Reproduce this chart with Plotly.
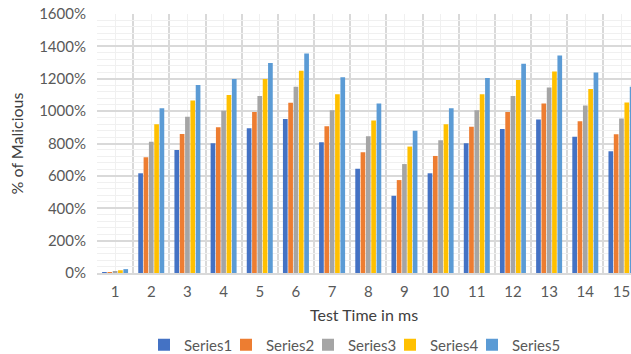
import plotly.graph_objects as go

categories = list(range(1, 16))
tick_labels = [str(c) for c in categories]
series_names = ["Series1", "Series2", "Series3", "Series4", "Series5"]
series1 = [3, 616, 760, 802, 894, 952, 808, 644, 477, 616, 802, 890, 948, 841, 752]
series2 = [5, 715, 859, 901, 994, 1051, 907, 746, 574, 723, 903, 994, 1047, 938, 857]
series3 = [11, 811, 966, 1002, 1093, 1150, 1006, 845, 673, 820, 1006, 1093, 1146, 1034, 954]
series4 = [17, 919, 1065, 1099, 1198, 1249, 1105, 942, 781, 919, 1105, 1193, 1245, 1136, 1053]
series5 = [24, 1018, 1162, 1198, 1297, 1356, 1210, 1047, 878, 1018, 1204, 1292, 1344, 1239, 1150]
colors = ["#4472C4", "#ED7D31", "#A5A5A5", "#FFC000", "#5B9BD5"]

W, H = 631, 354
left, top, bottom_y = 97, 14, 272.8
cat_px = 36.17

fig = go.Figure()
all_series = [series1, series2, series3, series4, series5]
for i, (name, vals, col) in enumerate(zip(series_names, all_series, colors)):
    fig.add_trace(go.Bar(x=categories, y=vals, name=name,
                         marker=dict(color=col, line=dict(width=0)),
                         legendwidth=(37 if i < len(series_names) - 1 else 70)))

x_hi = 0.5 + (W - left) / cat_px
font = "Lato, 'Open Sans', sans-serif"
fig.update_layout(
    width=W, height=H,
    margin=dict(l=left, r=0, t=top, b=H - bottom_y),
    paper_bgcolor="white", plot_bgcolor="white",
    barmode="group", bargap=0.264, bargroupgap=0.12,
    font=dict(family=font, size=15, color="#595959"),
    showlegend=True,
    legend=dict(orientation="h", xref="container", yref="container",
                x=144 / W, xanchor="left",
                y=(H - 345) / H, yanchor="middle",
                font=dict(size=15, color="#595959"),
                itemwidth=30, traceorder="normal"),
    xaxis=dict(
        range=[0.5, x_hi], tickmode="array", tickvals=categories, ticktext=tick_labels,
        showgrid=True, gridcolor="#f0f0f0", gridwidth=1,
        minor=dict(tickmode="array", tickvals=[c + 0.5 for c in [0] + categories],
                   showgrid=True, gridcolor="#d9d9d9", gridwidth=1.5),
        showline=True, linecolor="#d9d9d9", linewidth=1.5,
        zeroline=False, ticks="", ticklabelstandoff=4,
        tickfont=dict(size=15, color="#595959"),
        title=dict(text="Test Time in ms", font=dict(size=16, color="#404040"), standoff=11),
        automargin=False, fixedrange=True,
    ),
    yaxis=dict(
        range=[0, 1600], dtick=200, ticksuffix="%",
        showgrid=True, gridcolor="#d9d9d9", gridwidth=1.5,
        minor=dict(dtick=40, showgrid=True, gridcolor="#f0f0f0", gridwidth=1),
        zeroline=False, showline=False, ticks="", ticklabelstandoff=10,
        tickfont=dict(size=15, color="#595959"),
        title=dict(text="% of Malicious", font=dict(size=16, color="#404040"), standoff=11),
        automargin=False, fixedrange=True,
    ),
)

fig.write_html("out.html")
